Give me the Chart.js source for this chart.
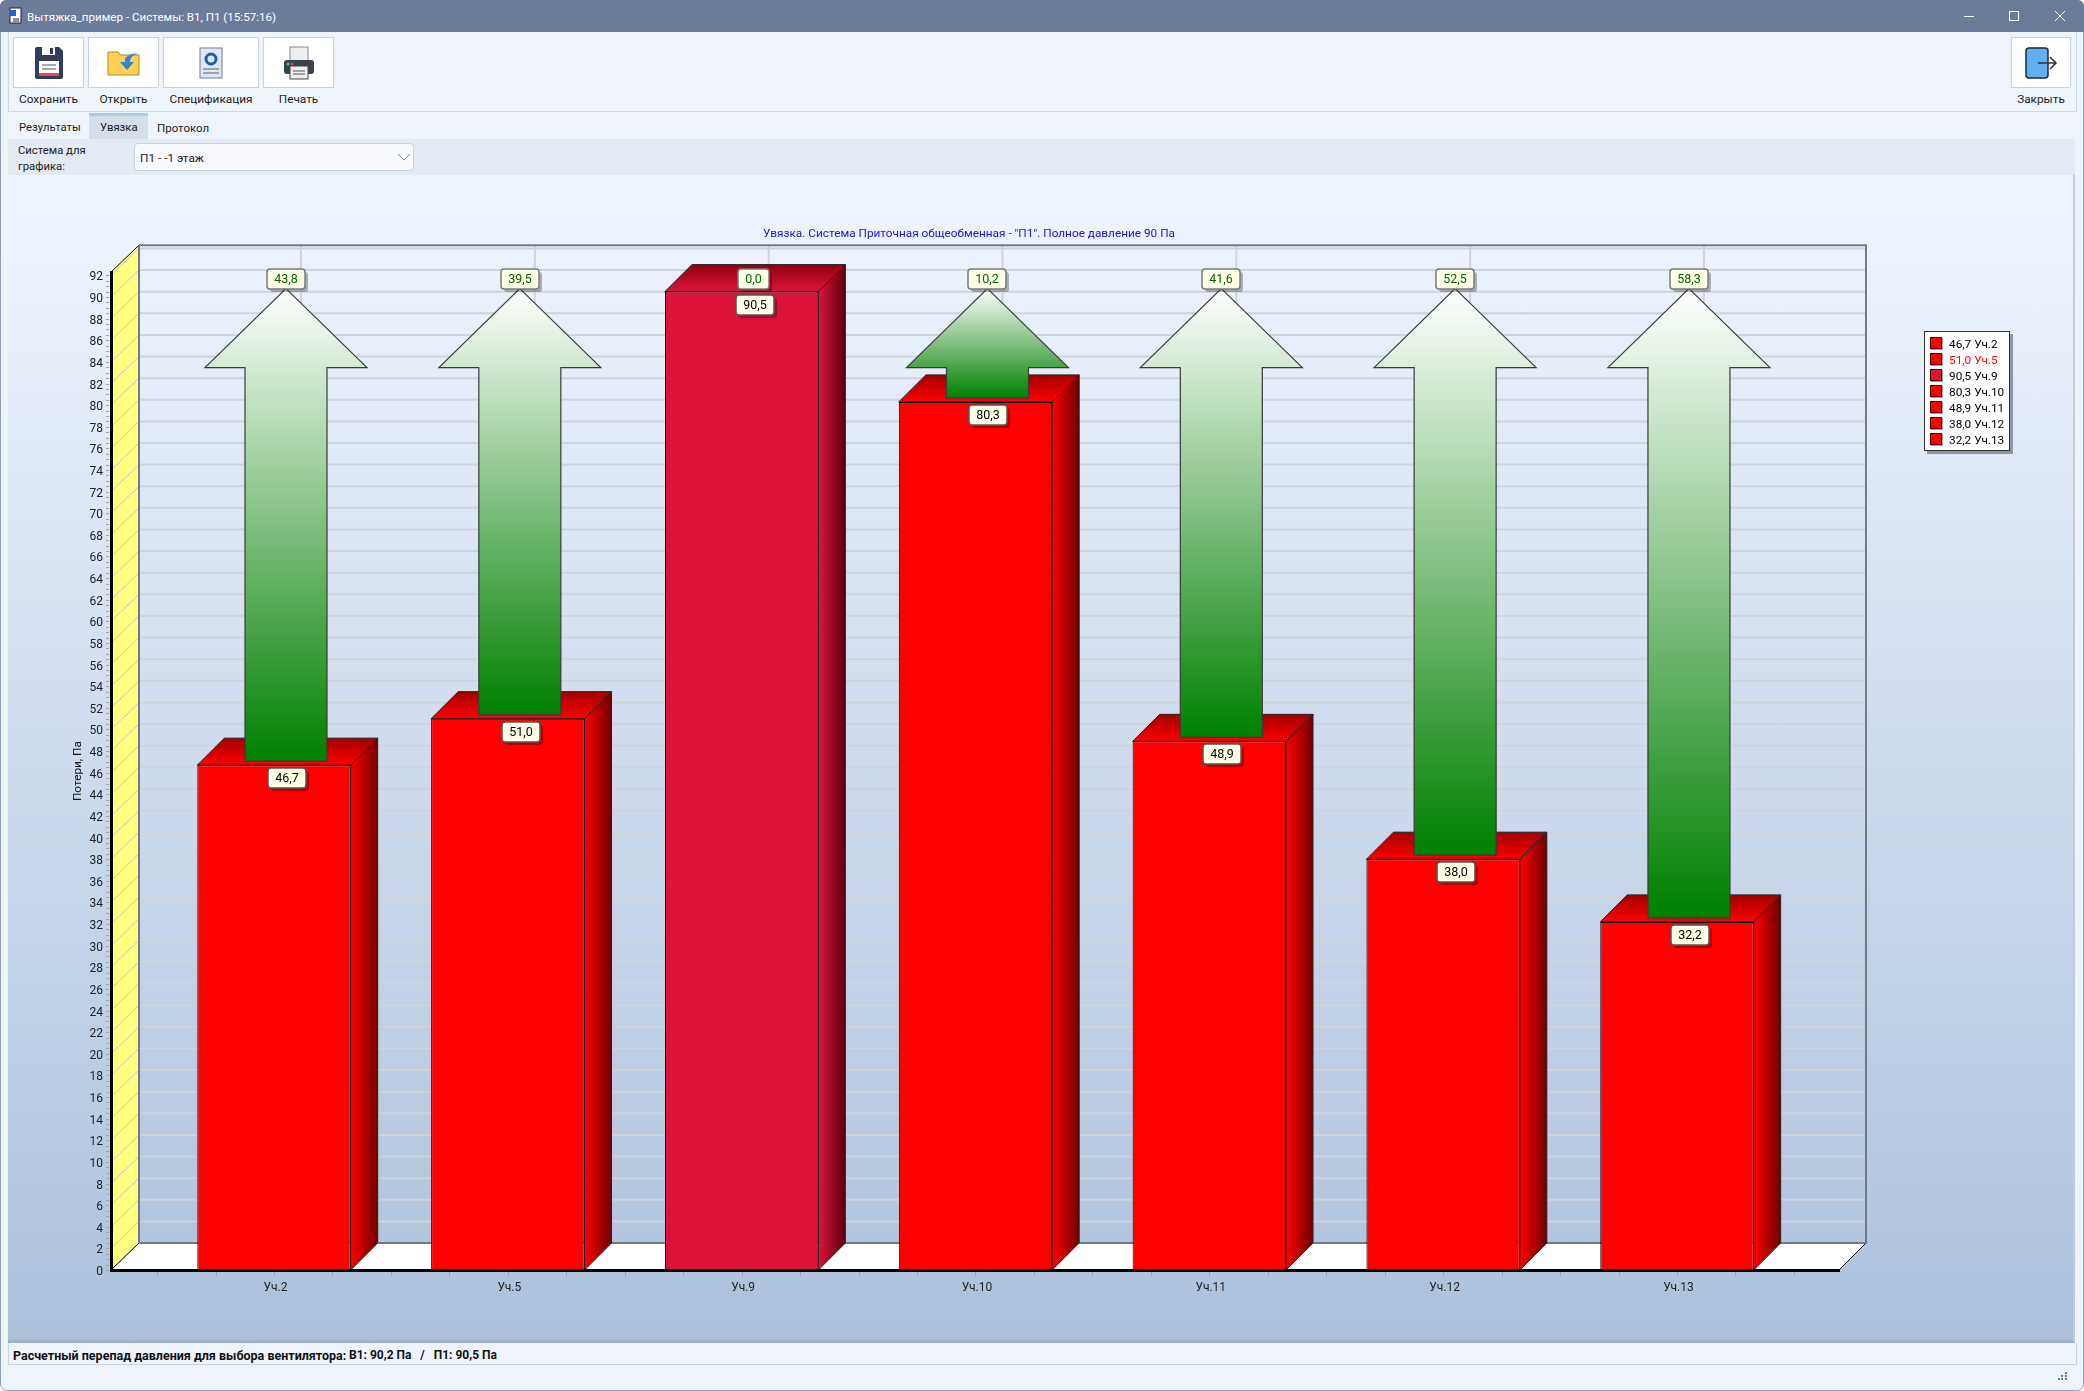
<!DOCTYPE html>
<html lang="ru">
<head>
<meta charset="utf-8">
<title>Увязка</title>
<script src="https://cdn.jsdelivr.net/npm/chart.js@4"></script>
<style>
  html, body { margin: 0; padding: 0; width: 2084px; height: 1391px; overflow: hidden; background: #fff; font-family: Roboto, sans-serif; font-size: 11.8px; color: #1c1c1c; }
  .abs { position: absolute; white-space: nowrap; }
  #win { left: 0; top: 0; width: 2082px; height: 1389px; background: #eff4fb; border: 1px solid #8fa2bc; border-radius: 7px; }
  #titlebar { left: 0; top: 0; width: 2084px; height: 32px; background: #6b7c9a; color: #fff; border-radius: 6px 6px 0 0; }
  #toolbar { left: 8px; top: 32px; width: 2067px; height: 79px; border: 1px solid #ccd8e6; border-top: 0; }
  .btn { top: 37px; height: 49px; background: #fff; border: 1px solid #c5d2e0; display: flex; align-items: center; justify-content: center; }
  .lbl { top: 92px; text-align: center; line-height: 15px; }
  #strip { left: 8px; top: 139px; width: 2067px; height: 36px; background: #e4eaf4; }
  #panel { left: 8px; top: 175px; width: 2065px; height: 1165px; background: linear-gradient(#f0f6ff, #adc1db); border-right: 2px solid #c2cbd6; border-bottom: 3px solid #a0b1c7; }
  #status { left: 8px; top: 1343px; width: 2067px; height: 21px; border: 1px solid #c8d4e2; border-top: 0; font-weight: 700; line-height: 25px; font-size: 12.5px; color: #111; }
  #combo { left: 134px; top: 143px; width: 278px; height: 26px; background: #f8fafd; border: 1px solid #c5d2e0; border-radius: 4px; line-height: 28px; text-indent: 5px; }
  #legend { left: 1924px; top: 331px; width: 84px; height: 118px; background: #fff; border: 1px solid #333; box-shadow: 3px 3px 0 #8d98a6; font-size: 11.8px; }
  #legend div { position: absolute; left: 5px; height: 16px; line-height: 16px; white-space: nowrap; }
  #legend i { display: inline-block; width: 10px; height: 10px; border: 1px solid #400; box-shadow: 1px 1px 0 #999; margin-right: 7px; vertical-align: -1px; }
  #chart { position: absolute; left: 0; top: 0; }
</style>
</head>
<body>
<div class="abs" id="win"></div>
<div class="abs" id="panel"></div>
<div class="abs" id="titlebar">
  <svg class="abs" style="left:8px;top:7px" width="16" height="18"><rect x="2" y="1" width="11" height="15" fill="#fff" stroke="#223"/><rect x="1" y="3" width="7" height="6" fill="#2a5bd7"/><path d="M5 12h6M5 14h6" stroke="#223"/></svg>
  <span class="abs" style="left:27px;top:10px;font-size:11.6px">Вытяжка_пример - Системы: В1, П1 (15:57:16)</span>
  <svg class="abs" style="left:1960px;top:6px" width="112" height="20" fill="none" stroke="#fff"><path d="M4 10.5h10"/><rect x="49.5" y="5.5" width="9" height="9"/><path d="M95 5l10 10M105 5l-10 10"/></svg>
</div>
<div class="abs" id="toolbar"></div>

<div class="abs btn" style="left:13px;width:69px">
  <svg width="30" height="34"><path d="M1 3q0-2 2-2h22l4 4v26q0 2-2 2H3q-2 0-2-2z" fill="#2f3c5e"/><rect x="8" y="1" width="13" height="8" fill="#fff"/><rect x="16" y="2" width="3" height="6" fill="#2f3c5e"/><rect x="5" y="15" width="20" height="14" fill="#fff"/><path d="M8 19h14M8 23h14" stroke="#555"/><rect x="5" y="27" width="20" height="3" fill="#e8474c"/></svg>
</div>
<div class="abs btn" style="left:88px;width:69px">
  <svg width="34" height="30"><path d="M1 4h10l3 3h18v20H1z" fill="#fdd04f" stroke="#a88a35"/><path d="M18 10q8-6 13-4-7 0-8 8h4l-7 8-7-8h5z" fill="#2f86d6"/></svg>
</div>
<div class="abs btn" style="left:163px;width:94px">
  <svg width="24" height="32"><rect x="1" y="1" width="22" height="30" fill="#dfe6f7" stroke="#767c8b"/><circle cx="12" cy="12" r="5" fill="none" stroke="#1d5fa5" stroke-width="3"/><path d="M4 22h16M4 26h16" stroke="#565b68"/></svg>
</div>
<div class="abs btn" style="left:263px;width:69px">
  <svg width="32" height="34"><rect x="7" y="1" width="18" height="14" fill="#eee" stroke="#888"/><rect x="1" y="14" width="30" height="14" rx="3" fill="#3a424d"/><circle cx="5" cy="18" r="1.5" fill="#3c9"/><circle cx="9" cy="18" r="1.5" fill="#d44"/><rect x="7" y="20" width="18" height="13" fill="#eee" stroke="#444"/><path d="M10 25h12M10 28h12" stroke="#555"/></svg>
</div>
<div class="abs btn" style="left:2011px;width:58px">
  <svg width="34" height="34"><rect x="2" y="2" width="22" height="30" rx="3" fill="#61b0f5" stroke="#1c2a3a" stroke-width="1.5"/><path d="M14 17h18M26 11l6 6-6 6" fill="none" stroke="#333" stroke-width="1.6"/></svg>
</div>
<div class="abs lbl" style="left:13px;width:71px">Сохранить</div>
<div class="abs lbl" style="left:88px;width:71px">Открыть</div>
<div class="abs lbl" style="left:163px;width:96px">Спецификация</div>
<div class="abs lbl" style="left:263px;width:71px">Печать</div>
<div class="abs lbl" style="left:2011px;width:60px">Закрыть</div>

<div class="abs" style="left:89px;top:113px;width:59px;height:23px;background:#d5dfe9;border-top:3px solid #a9cdf0"></div>
<div class="abs" style="left:19px;top:121px;font-size:11.3px">Результаты</div>
<div class="abs" style="left:100px;top:121px;font-size:11.3px">Увязка</div>
<div class="abs" style="left:157px;top:121px;font-size:11.5px">Протокол</div>

<div class="abs" id="strip"></div>
<div class="abs" style="left:18px;top:143px;line-height:16px;font-size:11.3px">Система для<br>графика:</div>
<div class="abs" id="combo">П1 - -1 этаж
  <svg class="abs" style="left:262px;top:9px" width="14" height="9" fill="none" stroke="#7d8794"><path d="M1 1l6 6 6-6"/></svg>
</div>

<div class="abs" id="status"><span class="abs" style="left:4px">Расчетный перепад давления для выбора вентилятора:</span><span class="abs" style="left:340px;font-size:12px">В1: 90,2 Па &nbsp; / &nbsp; П1: 90,5 Па</span></div>
<svg class="abs" style="left:2058px;top:1372px" width="10" height="10" fill="#66788f"><rect x="7" y="0" width="2" height="2"/><rect x="3" y="3" width="2" height="2"/><rect x="7" y="3" width="2" height="2"/><rect x="0" y="6" width="2" height="2"/><rect x="3" y="6" width="2" height="2"/><rect x="7" y="6" width="2" height="2"/></svg>

<canvas id="chart" width="1938" height="1391"></canvas>
<div class="abs" id="legend"></div>

<script>
// Данные графика
const categories = ["Уч.2", "Уч.5", "Уч.9", "Уч.10", "Уч.11", "Уч.12", "Уч.13"];
const losses = [46.7, 51.0, 90.5, 80.3, 48.9, 38.0, 32.2];
const arrows = [43.8, 39.5, 0.0, 10.2, 41.6, 52.5, 58.3];
const barColors = ["#ff0000", "#ff0000", "#dc143c", "#ff0000", "#ff0000", "#ff0000", "#ff0000"];
const legendColors = ["#000000", "#ff0000", "#000000", "#000000", "#000000", "#000000", "#000000"];

const chartTitle = 'Увязка. Система Приточная общеобменная - "П1". Полное давление 90 Па';
const yTitle = "Потери, Па";

const fmt = (v) => v.toFixed(1).replace(".", ",");
const FONT = "Roboto, sans-serif";
const DEPTH = 27; // глубина 3D по x и y
const WALL_DX = 28; // левая стена чуть шире
const DARK = { "#ff0000": "#6e0000", "#dc143c": "#5c0010" };
const TOPDARK = { "#ff0000": "#a30000", "#dc143c": "#8f0010" };

// Легенда
const legendBox = document.getElementById("legend");
categories.forEach((c, i) => {
  const row = document.createElement("div");
  row.style.top = 4 + i * 16 + "px";
  row.style.color = legendColors[i];
  row.innerHTML = `<i style="background:${barColors[i]}"></i>${fmt(losses[i])} ${c}`;
  legendBox.appendChild(row);
});

function poly(ctx, pts) {
  ctx.beginPath();
  pts.forEach((p, i) => (i ? ctx.lineTo(p[0], p[1]) : ctx.moveTo(p[0], p[1])));
  ctx.closePath();
}

function valueBox(ctx, text, cx, top, color, border) {
  ctx.font = "12.5px " + FONT;
  const w = Math.round(ctx.measureText(text).width) + 14;
  const h = 20;
  const x = Math.round(cx - w / 2);
  ctx.fillStyle = "rgba(0,0,0,0.28)";
  ctx.beginPath();
  ctx.roundRect(x + 3, top + 3, w, h, 3);
  ctx.fill();
  ctx.fillStyle = "#ffffe8";
  ctx.strokeStyle = border;
  ctx.lineWidth = 1.5;
  ctx.beginPath();
  ctx.roundRect(x, top, w, h, 3);
  ctx.fill();
  ctx.stroke();
  ctx.fillStyle = color;
  ctx.textAlign = "center";
  ctx.textBaseline = "middle";
  ctx.fillText(text, x + w / 2, top + h / 2 + 0.5);
}

// Стены, пол и грани столбцов
const box3d = {
  id: "box3d",
  // заголовок центрируется по всей ширине холста, а не по области графика
  afterLayout(chart) {
    chart.titleBlock.left = 0;
    chart.titleBlock.right = chart.width;
  },
  beforeDatasetsDraw(chart) {
    const { ctx, chartArea: a, scales } = chart;
    const { x, y } = scales;
    ctx.save();

    // сетка на задней стене
    ctx.strokeStyle = "#d0d3d9";
    ctx.lineWidth = 2;
    y.ticks.forEach((t) => {
      const py = y.getPixelForValue(t.value) - DEPTH;
      ctx.beginPath();
      ctx.moveTo(a.left + WALL_DX, py);
      ctx.lineTo(a.right + DEPTH, py);
      ctx.stroke();
    });
    x.ticks.forEach((t) => {
      const px = x.getPixelForValue(t.value) + DEPTH;
      ctx.beginPath();
      ctx.moveTo(px, a.top - DEPTH);
      ctx.lineTo(px, a.bottom - DEPTH);
      ctx.stroke();
    });

    // пол
    poly(ctx, [[a.left, a.bottom], [a.left + WALL_DX, a.bottom - DEPTH], [a.right + DEPTH, a.bottom - DEPTH], [a.right, a.bottom]]);
    ctx.fillStyle = "#ffffff";
    ctx.fill();
    ctx.strokeStyle = "#000";
    ctx.lineWidth = 1;
    ctx.beginPath();
    ctx.moveTo(a.right, a.bottom);
    ctx.lineTo(a.right + DEPTH, a.bottom - DEPTH);
    ctx.stroke();

    // рамка задней стены
    ctx.strokeStyle = "#747a82";
    ctx.lineWidth = 2;
    ctx.beginPath();
    ctx.moveTo(a.left + WALL_DX, a.bottom - DEPTH);
    ctx.lineTo(a.right + DEPTH, a.bottom - DEPTH);
    ctx.lineTo(a.right + DEPTH, a.top - DEPTH);
    ctx.lineTo(a.left + WALL_DX, a.top - DEPTH);
    ctx.stroke();

    // левая стена
    poly(ctx, [[a.left, a.top], [a.left + WALL_DX, a.top - DEPTH], [a.left + WALL_DX, a.bottom - DEPTH], [a.left, a.bottom]]);
    ctx.fillStyle = "#ffff80";
    ctx.fill();
    ctx.strokeStyle = "#c9c9b0";
    ctx.lineWidth = 1;
    y.ticks.forEach((t) => {
      const py = y.getPixelForValue(t.value);
      ctx.beginPath();
      ctx.moveTo(a.left, py);
      ctx.lineTo(a.left + WALL_DX, py - DEPTH);
      ctx.stroke();
    });
    ctx.strokeStyle = "#000";
    ctx.beginPath();
    ctx.moveTo(a.left, a.top);
    ctx.lineTo(a.left + WALL_DX, a.top - DEPTH);
    ctx.moveTo(a.left, a.bottom);
    ctx.lineTo(a.left + WALL_DX, a.bottom - DEPTH);
    ctx.stroke();
    ctx.strokeStyle = "#747a82";
    ctx.lineWidth = 2;
    ctx.beginPath();
    ctx.moveTo(a.left + WALL_DX, a.top - DEPTH);
    ctx.lineTo(a.left + WALL_DX, a.bottom - DEPTH);
    ctx.stroke();

    // мелкие штрихи на осях
    ctx.strokeStyle = "#9aa3ae";
    ctx.lineWidth = 1;
    for (let v = 0; v <= y.max; v += 0.5) {
      const py = Math.round(y.getPixelForValue(v)) + 0.5;
      ctx.beginPath();
      ctx.moveTo(a.left - 5, py);
      ctx.lineTo(a.left - 2, py);
      ctx.stroke();
    }
    for (let v = Math.ceil(x.min * 4) / 4; v <= x.max; v += 0.25) {
      const px = Math.round(x.getPixelForValue(v)) + 0.5;
      ctx.beginPath();
      ctx.moveTo(px, a.bottom + 2);
      ctx.lineTo(px, a.bottom + 6);
      ctx.stroke();
    }

    // боковые и верхние грани столбцов
    chart.getDatasetMeta(0).data.forEach((bar, i) => {
      const p = bar.getProps(["x", "y", "base", "width"], true);
      const l = p.x - p.width / 2;
      const r = p.x + p.width / 2;
      const c = barColors[i];

      poly(ctx, [[r, p.y], [r + DEPTH, p.y - DEPTH], [r + DEPTH, p.base - DEPTH], [r, p.base]]);
      const side = ctx.createLinearGradient(r, 0, r + DEPTH, 0);
      side.addColorStop(0, c);
      side.addColorStop(1, DARK[c]);
      ctx.fillStyle = side;
      ctx.fill();
      ctx.strokeStyle = "#222";
      ctx.lineWidth = 1;
      ctx.stroke();

      poly(ctx, [[l, p.y], [l + DEPTH, p.y - DEPTH], [r + DEPTH, p.y - DEPTH], [r, p.y]]);
      const top = ctx.createLinearGradient(0, p.y, 0, p.y - DEPTH);
      top.addColorStop(0, c);
      top.addColorStop(1, TOPDARK[c]);
      ctx.fillStyle = top;
      ctx.fill();
      ctx.stroke();
    });
    ctx.restore();
  },

  // Стрелки запаса и подписи значений
  afterDatasetsDraw(chart) {
    const { ctx, scales } = chart;
    const { x, y } = scales;
    const headH = 79, headW = 81, shaftW = 41, shift = 12, lift = 4;
    ctx.save();
    categories.forEach((c, i) => {
      if (arrows[i] <= 0) return;
      const cx = x.getPixelForValue(i) + shift;
      const base = y.getPixelForValue(losses[i]) - lift;
      const tip = y.getPixelForValue(losses[i] + arrows[i]) - lift + 1;
      poly(ctx, [
        [cx, tip],
        [cx + headW, tip + headH],
        [cx + shaftW, tip + headH],
        [cx + shaftW, base],
        [cx - shaftW, base],
        [cx - shaftW, tip + headH],
        [cx - headW, tip + headH],
      ]);
      const g = ctx.createLinearGradient(0, tip, 0, base);
      g.addColorStop(0, "#ffffff");
      g.addColorStop(1, "#008000");
      ctx.fillStyle = g;
      ctx.fill();
      ctx.strokeStyle = "#3a3a3a";
      ctx.lineWidth = 1.2;
      ctx.stroke();
    });
    categories.forEach((c, i) => {
      const cx = x.getPixelForValue(i) + shift;
      const yBar = y.getPixelForValue(losses[i]);
      const yTip = y.getPixelForValue(losses[i] + arrows[i]);
      valueBox(ctx, fmt(arrows[i]), cx, Math.round(yTip) - 23, "#006400", "#777b7c");
      valueBox(ctx, fmt(losses[i]), cx + 1, Math.round(yBar) + 3, "#000000", "#555");
    });
    ctx.restore();
  },
};

const graficoUvyazka = new Chart(document.getElementById("chart").getContext("2d"), {
  type: "bar",
  plugins: [box3d],
  data: {
    datasets: [
      {
        label: yTitle,
        data: categories.map((c, i) => ({ x: i, y: losses[i] })),
        backgroundColor: barColors,
        borderColor: "#000000",
        borderWidth: 1,
        barPercentage: 0.656,
        categoryPercentage: 1,
      },
    ],
  },
  options: {
    responsive: false,
    animation: false,
    devicePixelRatio: 1,
    layout: { padding: { left: 0, right: 99, top: 0, bottom: 0 } },
    plugins: {
      legend: { display: false },
      tooltip: { enabled: false },
      title: {
        display: true,
        text: chartTitle,
        color: "#1414e6",
        font: { family: FONT, size: 11.8, weight: "normal" },
        padding: { top: 227, bottom: 31 },
      },
    },
    scales: {
      x: {
        type: "linear",
        offset: false,
        min: -0.6971,
        max: 6.693,
        grid: { display: false, drawTicks: false, offset: false },
        border: { display: true, color: "#000000", width: 3, z: 1 },
        afterBuildTicks: (s) => {
          s.ticks = categories.map((c, i) => ({ value: i }));
        },
        afterFit: (s) => {
          s.height = 121;
        },
        ticks: {
          autoSkip: false,
          maxRotation: 0,
          padding: 11,
          labelOffset: 1.5,
          color: "#222",
          font: { family: FONT, size: 12 },
          callback: (v) => categories[v],
        },
      },
      y: {
        type: "linear",
        min: 0,
        max: 92.3,
        grid: { display: false, drawTicks: false },
        border: { display: true, color: "#000000", width: 3, z: 1 },
        afterFit: (s) => {
          s.width = 111;
        },
        title: {
          display: true,
          text: yTitle,
          color: "#111",
          font: { family: FONT, size: 11.8 },
          padding: { top: 71, bottom: 0 },
        },
        ticks: {
          stepSize: 2,
          autoSkip: false,
          includeBounds: false,
          padding: 8,
          labelOffset: 2,
          color: "#222",
          font: { family: FONT, size: 12 },
          callback: (v) => String(v),
        },
      },
    },
  },
});
</script>
</body>
</html>
